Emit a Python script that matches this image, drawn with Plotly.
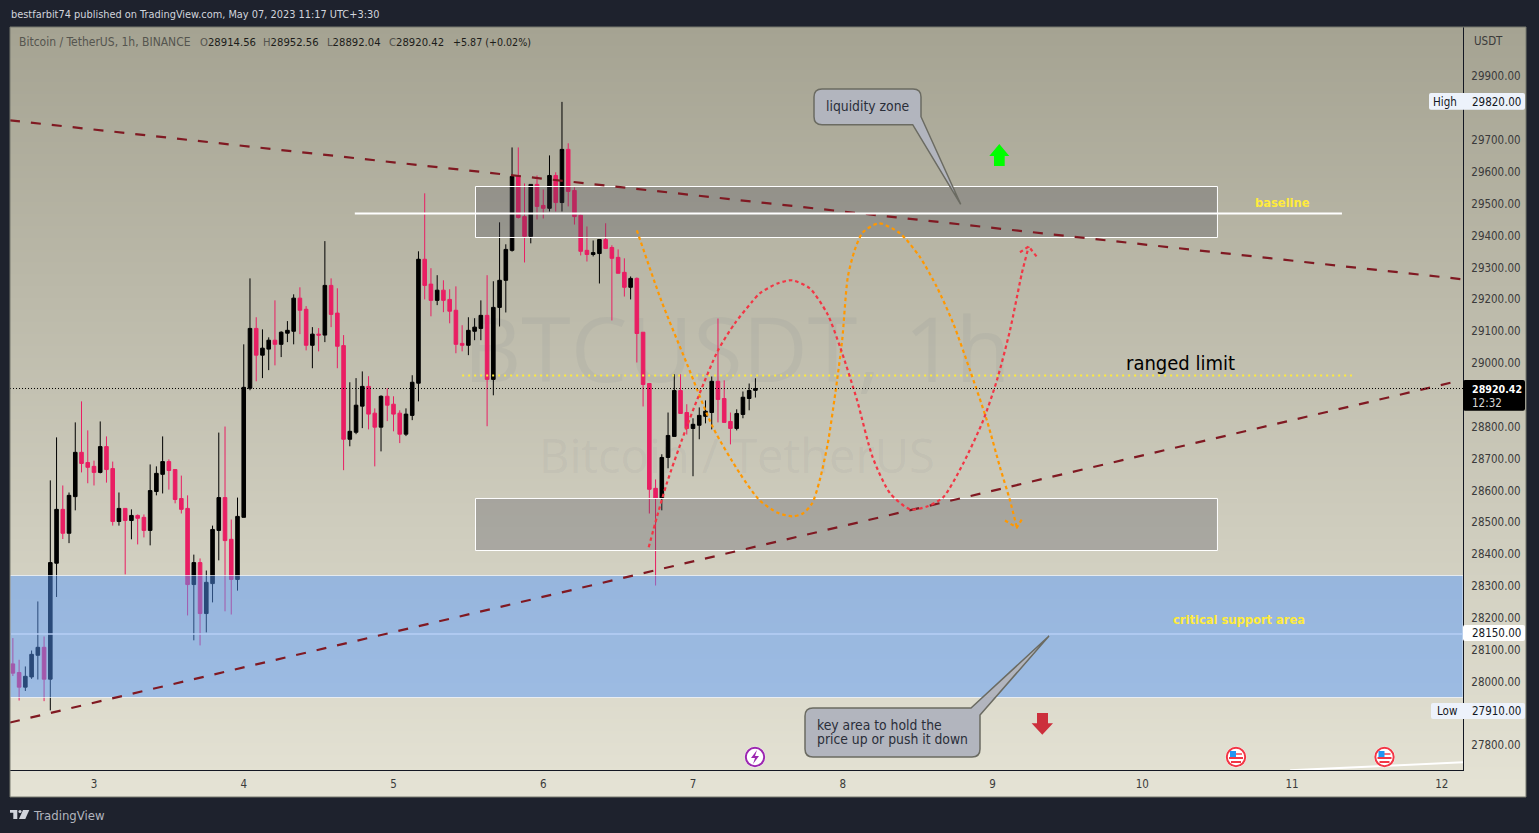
# BTCUSDT 1h chart with hand drawn ranges, TradingView look
import pandas as pd
import plotly.graph_objects as go

WIDTH = 1539
HEIGHT = 833
FONT = "DejaVu Sans Condensed"

# one candle per hour, first one at May 2 11:00
opens = [
    28056, 28029, 27983, 28015, 28083, 28108, 28008, 28372, 28541, 28466,
    28581, 28720, 28688, 28676, 28657, 28738, 28669, 28503, 28544, 28506,
    28522, 28516, 28475, 28597, 28651, 28691, 28666, 28575, 28544, 28305,
    28374, 28214, 28308, 28475, 28578, 28447, 28321, 28516, 28921, 29109,
    29025, 29044, 29072, 29059, 29094, 29100, 29204, 29169, 29056, 29091,
    29088, 29244, 29157, 29055, 28761, 28783, 28865, 28927, 28843, 28799,
    28896, 28871, 28843, 28777, 28836, 28937, 29326, 29248, 29197, 29229,
    29200, 29166, 29062, 29056, 29100, 29109, 29150, 28949, 29175, 29260,
    29354, 29586, 29460, 29398, 29561, 29495, 29486, 29589, 29504, 29671,
    29542, 29464, 29354, 29341, 29344, 29388, 29363, 29332, 29285, 29238,
    29266, 29097, 28936, 28607, 28576, 28704, 28770, 28914, 28845, 28795,
    28805, 28833, 28845, 28943, 28889, 28817, 28795, 28839, 28889, 28914.56,
]
highs = [
    28137, 28069, 28048, 28098, 28252, 28142, 28632, 28767, 28616, 28594,
    28814, 28880, 28789, 28694, 28817, 28770, 28691, 28594, 28544, 28541,
    28525, 28525, 28682, 28676, 28770, 28698, 28666, 28647, 28585, 28399,
    28387, 28349, 28490, 28782, 28801, 28509, 28578, 29059, 29266, 29144,
    29106, 29081, 29197, 29100, 29132, 29216, 29238, 29179, 29113, 29110,
    29383, 29266, 29235, 29088, 28940, 28953, 28974, 28959, 28858, 28899,
    28921, 28896, 28852, 28858, 28962, 29351, 29533, 29298, 29276, 29260,
    29232, 29241, 29119, 29144, 29141, 29197, 29276, 29257, 29442, 29373,
    29677, 29677, 29564, 29561, 29589, 29545, 29652, 29599, 29820, 29690,
    29552, 29467, 29429, 29385, 29388, 29439, 29370, 29357, 29329, 29272,
    29269, 29097, 28936, 28635, 28714, 28845, 28965, 28965, 28871, 28827,
    28861, 28883, 28958, 29140, 28946, 28845, 28855, 28911, 28936, 28952.56,
]
lows = [
    28018, 27941, 27971, 28009, 28007, 27939, 27910, 28266, 28448, 28435,
    28538, 28657, 28623, 28616, 28654, 28625, 28490, 28490, 28337, 28447,
    28431, 28453, 28428, 28585, 28591, 28603, 28560, 28528, 28208, 28130,
    28114, 28155, 28249, 28381, 28221, 28211, 28286, 28516, 28915, 28943,
    28953, 28978, 28993, 29019, 29066, 29059, 29091, 29040, 28984, 29037,
    29066, 29113, 28984, 28664, 28739, 28777, 28796, 28792, 28676, 28723,
    28818, 28786, 28749, 28771, 28821, 28880, 29200, 29147, 29182, 29160,
    29125, 29031, 29037, 29025, 29072, 29072, 28802, 28899, 29115, 29159,
    29350, 29454, 29316, 29376, 29451, 29454, 29476, 29476, 29476, 29492,
    29435, 29338, 29319, 29335, 29250, 29358, 29134, 29282, 29209, 29200,
    29002, 28864, 28528, 28302, 28538, 28670, 28770, 28842, 28776, 28645,
    28761, 28811, 28792, 28814, 28814, 28745, 28789, 28827, 28852, 28892.04,
]
closes = [
    28027, 27983, 28017, 28086, 28108, 28008, 28374, 28541, 28466, 28585,
    28720, 28685, 28673, 28657, 28738, 28666, 28503, 28544, 28506, 28522,
    28513, 28475, 28600, 28654, 28691, 28663, 28572, 28541, 28305, 28374,
    28214, 28312, 28478, 28578, 28443, 28321, 28519, 28924, 29109, 29025,
    29047, 29072, 29059, 29097, 29103, 29204, 29166, 29056, 29091, 29088,
    29244, 29153, 29053, 28761, 28786, 28868, 28927, 28840, 28799, 28896,
    28868, 28840, 28777, 28840, 28940, 29326, 29244, 29197, 29229, 29197,
    29163, 29059, 29056, 29103, 29113, 29150, 28949, 29175, 29260, 29357,
    29586, 29457, 29398, 29561, 29492, 29486, 29589, 29504, 29671, 29539,
    29460, 29351, 29341, 29347, 29388, 29360, 29329, 29282, 29238, 29266,
    29093, 28933, 28604, 28576, 28704, 28773, 28914, 28842, 28795, 28808,
    28836, 28849, 28943, 28886, 28814, 28795, 28842, 28893, 28914, 28920.42,
]

day_labels = ["3", "4", "5", "6", "7", "8", "9", "10", "11", "12"]
# 29800, 28900 and 27900 sit under the price tags, so they are left out
price_ticks = [27800, 28000, 28100, 28200, 28300, 28400, 28500, 28600, 28700, 28800, 29000,
               29100, 29200, 29300, 29400, 29500, 29600, 29700, 29900]

# drawings, x in hours after May 3 00:00
orange_hours = [87.0, 90.9, 95.0, 99.2, 103.5, 106.7, 109.5, 111.9, 113.6, 115.1, 116.3, 117.6, 118.8, 119.9,
                120.8, 121.9, 123.2, 125.8, 129.2, 132.4, 135.1, 137.7, 140.4, 143.1, 145.2, 146.8, 147.9]
orange_prices = [29417, 29197, 28999, 28798, 28654, 28569, 28531, 28519, 28528, 28560, 28632, 28748, 28905, 29071,
                 29269, 29354, 29410, 29439, 29407, 29332, 29238, 29125, 28977, 28820, 28673, 28569, 28484]
orange_head_hours = [146.0, 147.9, 148.9]
orange_head_prices = [28506, 28484, 28516]

red_hours = [88.9, 90.2, 91.8, 94.2, 96.8, 100.0, 102.7, 105.4, 106.7, 109.5, 111.9, 114.7, 117.5,
             119.6, 122.3, 124.8, 127.6, 130.8, 133.5, 136.1, 139.3, 142.5, 144.7, 146.8, 148.7, 149.8]
red_prices = [28422, 28516, 28623, 28758, 28892, 29040, 29125, 29191, 29219, 29250, 29260, 29235, 29156,
              29049, 28883, 28704, 28591, 28541, 28550, 28579, 28685, 28820, 28946, 29103, 29282, 29366]
red_head_hours = [148.4, 149.8, 151.3]
red_head_prices = [29348, 29366, 29329]

falling_trend_hours = [-13.46, 219.4]
falling_trend_prices = [29762, 29263]
rising_trend_hours = [-13.46, 218.4]
rising_trend_prices = [27872, 28943]
corner_line_hours = [191.7, 219.4]
corner_line_prices = [27722, 27747]

last_price = 28920.42
support_mid = 28150
support_low = 27950.5
support_high = 28333.4
upper_box = [61.14, 180.05, 29394.3, 29554.4]
lower_box = [61.14, 180.05, 28411.9, 28575.2]
baseline_line = [41.8, 200.0, 29470]
ranged_line = [59.0, 201.6, 28961.5]

day_zero = pd.Timestamp("2023-05-03 00:00")
chart_range = ["2023-05-02 10:32:24", "2023-05-12 03:24:00"]
price_range = [27722.95, 30055.05]


def at_hours(hours):
    return [day_zero + pd.Timedelta(hours=h) for h in hours]


def px(x):
    return x / WIDTH


def py(y):
    return 1 - y / HEIGHT


# svg path in paper coords from pixel commands
def paper_path(*parts):
    out = []
    for part in parts:
        cmd = part[0]
        nums = part[1:]
        pairs = [f"{px(nums[i])},{py(nums[i + 1])}" for i in range(0, len(nums), 2)]
        out.append(cmd + " " + " ".join(pairs))
    return " ".join(out)


def paper_shape(path, fill, line="rgba(0,0,0,0)", width=0):
    return dict(type="path", xref="paper", yref="paper", layer="above", path=path,
                fillcolor=fill, line=dict(color=line, width=width))


def rounded(x0, y0, x1, y1, r):
    return paper_path(("M", x0 + r, y0), ("L", x1 - r, y0), ("Q", x1, y0, x1, y0 + r), ("L", x1, y1 - r),
                      ("Q", x1, y1, x1 - r, y1), ("L", x0 + r, y1), ("Q", x0, y1, x0, y1 - r),
                      ("L", x0, y0 + r), ("Q", x0, y0, x0 + r, y0)) + " Z"


def circle(cx, cy, r, fill, line="rgba(0,0,0,0)", width=0):
    return dict(type="circle", xref="paper", yref="paper", layer="above",
                x0=px(cx - r), x1=px(cx + r), y0=py(cy + r), y1=py(cy - r),
                fillcolor=fill, line=dict(color=line, width=width))


def box(x0, y0, x1, y1, fill):
    return dict(type="rect", xref="paper", yref="paper", layer="above",
                x0=px(x0), x1=px(x1), y0=py(y1), y1=py(y0), fillcolor=fill, line=dict(width=0))


def flag(cx, cy):
    return [
        circle(cx, cy, 10.5, "#ffffff"),
        circle(cx, cy, 9.2, "#ffffff", "#f23645", 2),
        box(cx - 5, cy - 4, cx + 6, cy - 2, "#f7717b"),
        box(cx - 7, cy, cx + 7, cy + 2, "#f23645"),
        box(cx - 5, cy + 4, cx + 5, cy + 6, "#f23645"),
        box(cx - 6, cy - 6, cx, cy, "#2196f3"),
    ]


def label(x, y, text, size=11.5, color="#3a3a3a", xanchor="center", family=FONT):
    return dict(x=px(x), y=py(y), xref="paper", yref="paper", text=text, showarrow=False, xanchor=xanchor,
                yanchor="middle", align="left", borderpad=0, font=dict(family=family, size=size, color=color))


fig = go.Figure()

# background gradient and the two watermark lines sit on their own axes under the candles
fig.add_trace(go.Heatmap(x=[0, 1], y=[0, 1], z=[[1, 1], [0, 0]], zsmooth="best", showscale=False, hoverinfo="skip",
                         colorscale=[[0, "#a5a392"], [1, "#e5e3d5"]], xaxis="x", yaxis="y"))
fig.add_trace(go.Scatter(x=[0.4795, 0.4795], y=[0.5688, 0.4357], mode="text", hoverinfo="skip",
                         text=["BTCUSDT, 1h", "Bitcoin / TetherUS"], xaxis="x", yaxis="y",
                         textfont=dict(family="Open Sans", size=[90, 47], color="rgba(110,115,125,0.085)")))

dates = pd.date_range("2023-05-02 11:00", periods=len(opens), freq="h")
fig.add_trace(go.Candlestick(x=dates, open=opens, high=highs, low=lows, close=closes, xaxis="x2", yaxis="y2",
                             whiskerwidth=0, hoverinfo="skip",
                             increasing=dict(line=dict(color="#000000", width=1), fillcolor="#000000"),
                             decreasing=dict(line=dict(color="#e91e63", width=1), fillcolor="#e91e63")))


def add_line(hours, prices, color, width, dash, spline=False):
    line = dict(color=color, width=width, dash=dash)
    if spline:
        line.update(shape="spline", smoothing=0.7)
    fig.add_trace(go.Scatter(x=at_hours(hours), y=prices, mode="lines", line=line, hoverinfo="skip",
                             xaxis="x3", yaxis="y3"))


add_line(falling_trend_hours, falling_trend_prices, "#801922", 2.2, "10px,11px")
add_line(rising_trend_hours, rising_trend_prices, "#801922", 2.2, "10px,11px")
add_line(baseline_line[:2], [baseline_line[2]] * 2, "#ffffff", 2, "solid")
add_line(ranged_line[:2], [ranged_line[2]] * 2, "#ffeb3b", 2, "2px,4px")
add_line(corner_line_hours, corner_line_prices, "#ffffff", 2, "solid")
add_line(orange_hours, orange_prices, "#ff9800", 2.2, "3.5px,3px", spline=True)
add_line(orange_head_hours, orange_head_prices, "#ff9800", 2.2, "3.5px,3px")
add_line(red_hours, red_prices, "#f23645", 2.2, "3.5px,3px", spline=True)
add_line(red_head_hours, red_head_prices, "#f23645", 2.2, "3.5px,3px")

shapes = []


# these go in the x3 subplot back layer, so over the candles and under the drawings
def zone(x0, x1, y0, y1, fill, line_color):
    return dict(type="rect", xref="x3", yref="y3", layer="below", x0=x0, x1=x1, y0=y0, y1=y1,
                fillcolor=fill, line=dict(color=line_color, width=1))


shapes.append(zone(chart_range[0], chart_range[1], support_low, support_high, "rgba(85,152,250,0.48)",
                   "rgba(255,255,255,0.65)"))
shapes.append(dict(type="line", xref="x3", yref="y3", layer="below", x0=chart_range[0], x1=chart_range[1],
                   y0=support_mid, y1=support_mid, line=dict(color="#b7cff6", width=1.5)))
for b in [upper_box, lower_box]:
    start, end = at_hours(b[:2])
    shapes.append(zone(start, end, b[2], b[3], "rgba(67,70,81,0.28)", "#ffffff"))
shapes.append(dict(type="line", xref="x2", yref="y2", layer="above", x0=chart_range[0], x1=chart_range[1],
                   y0=last_price, y1=last_price, line=dict(color="#000000", width=1, dash="1px,2px")))

# panel outline
shapes.append(dict(type="rect", xref="paper", yref="paper", layer="above", x0=px(10), x1=px(1526), y0=py(797),
                   y1=py(27), line=dict(color="#77786f", width=1)))

# callouts
callout_fill = "#b2b5be"
callout_line = "#6b6b62"
shapes.append(paper_shape(
    paper_path(("M", 822, 89), ("L", 913, 89), ("Q", 921, 89, 921, 97), ("L", 921, 116.7), ("L", 960.7, 204.3),
               ("L", 912.7, 124.7), ("L", 822, 124.7), ("Q", 814, 124.7, 814, 116.7), ("L", 814, 97),
               ("Q", 814, 89, 822, 89)) + " Z",
    callout_fill, callout_line, 1.5))
shapes.append(paper_shape(
    paper_path(("M", 813, 708), ("L", 971, 708), ("L", 1049, 636), ("L", 980, 715), ("L", 980, 749),
               ("Q", 980, 757, 972, 757), ("L", 813, 757), ("Q", 805, 757, 805, 749), ("L", 805, 716),
               ("Q", 805, 708, 813, 708)) + " Z",
    callout_fill, callout_line, 1.5))

# up and down arrows
shapes.append(paper_shape(
    paper_path(("M", 999.3, 144), ("L", 1009.3, 156), ("L", 1004.7, 156), ("L", 1004.7, 166), ("L", 994, 166),
               ("L", 994, 156), ("L", 989.3, 156)) + " Z", "#00ff00"))
shapes.append(paper_shape(
    paper_path(("M", 1037, 713), ("L", 1048, 713), ("L", 1048, 723.3), ("L", 1053, 723.3), ("L", 1042.3, 734.7),
               ("L", 1031.6, 723.3), ("L", 1037, 723.3)) + " Z", "#cc2f3c"))

# event icons on the time axis edge
shapes.append(circle(755, 757, 10.5, "#ffffff"))
shapes.append(circle(755, 757, 9.2, "#ffffff", "#9c27b0", 2))
shapes.append(paper_shape(
    paper_path(("M", 757, 750), ("L", 751, 758), ("L", 755, 758), ("L", 753, 764), ("L", 759, 756), ("L", 755, 756))
    + " Z", "#9c27b0"))
shapes += flag(1236, 757)
shapes += flag(1384.5, 757)

# price tags on the right
tag_fill = "#edf2fb"
shapes.append(paper_shape(rounded(1429, 93, 1525, 109.7, 2), tag_fill))
shapes.append(paper_shape(rounded(1431, 703, 1525, 719, 2), tag_fill))
shapes.append(paper_shape(rounded(1463, 625, 1525, 641, 2), "#ffffff"))
shapes.append(paper_shape(rounded(1463, 380, 1525, 410.7, 2), "#000000"))

# tradingview logo
shapes.append(paper_shape(
    paper_path(("M", 10, 810), ("L", 17.3, 810), ("L", 17.3, 819), ("L", 13.3, 819), ("L", 13.3, 812.7),
               ("L", 10, 812.7)) + " Z", "#d1d4dc"))
shapes.append(circle(20, 811.5, 1.6, "#d1d4dc"))
shapes.append(paper_shape(
    paper_path(("M", 23, 810), ("L", 29.3, 810), ("L", 25.3, 819), ("L", 19, 819)) + " Z", "#d1d4dc"))

dim = "#55554f"
dark = "#1c1c1a"


def ohlc_text(letter, value):
    return f'<span style="color:{dim}">{letter}</span><span style="color:{dark}">{value}</span>'


annotations = [
    label(10, 14, "bestfarbit74 published on TradingView.com, May 07, 2023 11:17 UTC+3:30", size=10.9,
          color="#d1d4dc", xanchor="left"),
    label(18, 42, "Bitcoin / TetherUS, 1h, BINANCE", size=12, color=dim, xanchor="left"),
    label(199, 42, ohlc_text("O", "28914.56"), size=11.2, xanchor="left"),
    label(262, 42, ohlc_text("H", "28952.56"), size=11.2, xanchor="left"),
    label(326, 42, ohlc_text("L", "28892.04"), size=11.2, xanchor="left"),
    label(388, 42, ohlc_text("C", "28920.42"), size=11.2, xanchor="left"),
    label(452, 42, "+5.87 (+0.02%)", size=10.6, color=dark, xanchor="left"),
    label(1473, 41, "USDT", xanchor="left"),
    label(867.5, 106, "liquidity zone", size=13.8, color="#2a2e39"),
    label(816, 725, "key area to hold the", size=13.8, color="#2a2e39", xanchor="left"),
    label(816, 739, "price up or push it down", size=13.8, color="#2a2e39", xanchor="left"),
    label(1282, 202, "<b>baseline</b>", size=12.8, color="#ffeb3b"),
    label(1239, 619, "<b>critical support area</b>", size=12.8, color="#ffeb3b"),
    label(1180.5, 363, "ranged limit", size=20, color="#000000"),
    label(1445, 101.5, "High", color="#131722"),
    label(1471, 101.5, "29820.00", color="#131722", xanchor="left"),
    label(1436, 711, "Low", color="#131722", xanchor="left"),
    label(1471, 711, "27910.00", color="#131722", xanchor="left"),
    label(1471, 633, "28150.00", color="#131722", xanchor="left"),
    label(1471, 388.5, "<b>28920.42</b>", size=10.6, color="#ffffff", xanchor="left"),
    label(1471, 403, "12:32", color="#d6d6d6", xanchor="left"),
    label(32, 815, "TradingView", size=13, color="#b2b5be", xanchor="left"),
]

hidden_axis = dict(visible=False, fixedrange=True)
axis_font = dict(family=FONT, size=11.5, color="#3a3a3a")
chart_dom_x = [px(10), px(1463)]
chart_dom_y = [py(770), py(27)]

fig.update_layout(
    width=WIDTH,
    height=HEIGHT,
    margin=dict(l=0, r=0, t=0, b=0),
    autosize=False,
    showlegend=False,
    paper_bgcolor="#1e222d",
    plot_bgcolor="rgba(0,0,0,0)",
    boxgap=0.18,
    shapes=shapes,
    annotations=annotations,
    xaxis=dict(domain=[px(10), px(1526)], range=[0, 1], **hidden_axis),
    yaxis=dict(domain=[py(797), py(27)], range=[0, 1], **hidden_axis),
    xaxis2=dict(domain=chart_dom_x, range=chart_range, anchor="y2", type="date", rangeslider=dict(visible=False),
                tickmode="array", tickvals=at_hours([24 * i for i in range(10)]), ticktext=day_labels,
                showgrid=False, zeroline=False, showline=True, linecolor="#131722", linewidth=1, ticks="",
                tickfont=axis_font, ticklabelstandoff=3, fixedrange=True),
    yaxis2=dict(domain=chart_dom_y, range=price_range, anchor="x2", side="right", tickmode="array",
                tickvals=price_ticks, tickformat=".2f", showgrid=False, zeroline=False, showline=True,
                linecolor="#131722", linewidth=1, ticks="", tickfont=axis_font, ticklabelstandoff=5,
                fixedrange=True),
    xaxis3=dict(domain=chart_dom_x, range=chart_range, anchor="y3", type="date", **hidden_axis),
    yaxis3=dict(domain=chart_dom_y, range=price_range, anchor="x3", **hidden_axis),
)

fig.write_html("out.html", config={"displayModeBar": False},
               post_script="document.body.style.margin='0';document.body.style.overflow='hidden';")
